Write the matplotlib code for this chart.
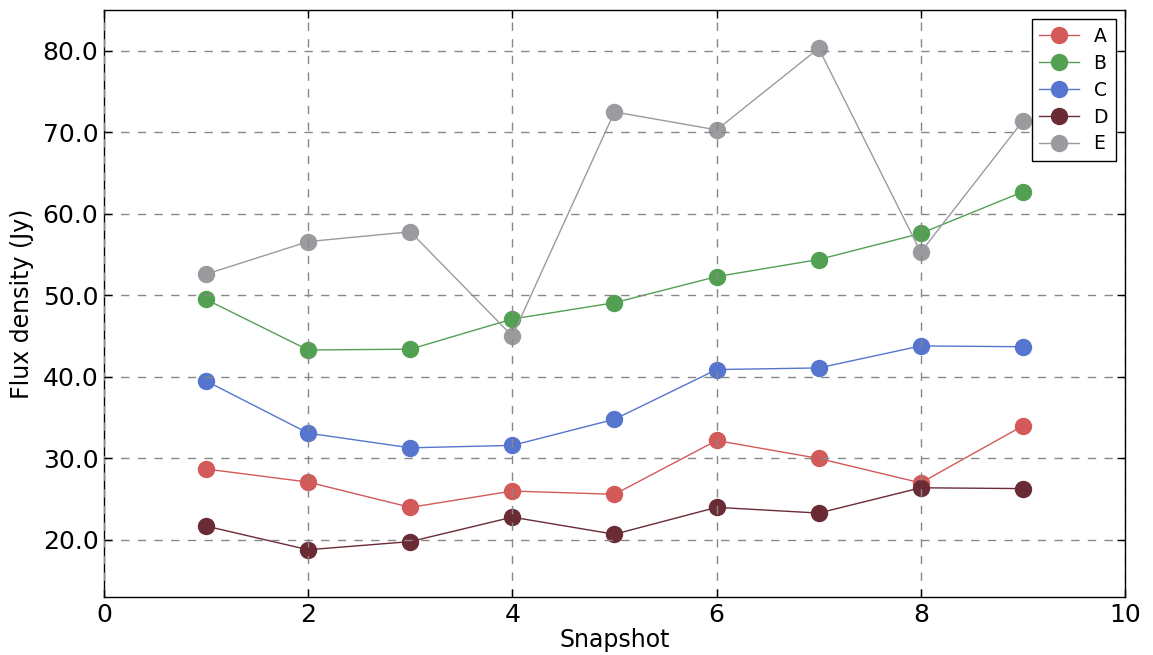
import numpy as np
import matplotlib
matplotlib.use("Agg")
import matplotlib.pyplot as plt
from matplotlib.ticker import FormatStrFormatter

# flux density per snapshot for each component
snapshots = [1, 2, 3, 4, 5, 6, 7, 8, 9]
flux_a = [28.7, 27.1, 24.0, 26.0, 25.6, 32.2, 30.0, 27.0, 34.0]
flux_b = [49.5, 43.3, 43.4, 47.1, 49.1, 52.3, 54.4, 57.6, 62.7]
flux_c = [39.5, 33.1, 31.3, 31.6, 34.8, 40.9, 41.1, 43.8, 43.7]
flux_d = [21.7, 18.8, 19.8, 22.8, 20.7, 24.0, 23.3, 26.4, 26.3]
flux_e = [52.6, 56.6, 57.8, 45.0, 72.5, 70.3, 80.3, 55.3, 71.4]
names = ["A", "B", "C", "D", "E"]
colors = ["#d45959", "#52a052", "#5575cf", "#6a2b35", "#9b9b9f"]

fig = plt.figure(figsize=(11.53, 6.55), dpi=100)
ax = fig.add_axes([0.0902, 0.0885, 0.8855, 0.8962])

for name, flux, col in zip(names, [flux_a, flux_b, flux_c, flux_d, flux_e], colors):
    ax.plot(snapshots, flux, "-o", color=col, markeredgecolor=col,
            markersize=11.5, linewidth=1.0, label=name)

ax.set_xlim(0, 10)
ax.set_ylim(13, 85)
ax.set_xticks([0, 2, 4, 6, 8, 10])
ax.set_yticks([20, 30, 40, 50, 60, 70, 80])
ax.yaxis.set_major_formatter(FormatStrFormatter("%.1f"))
ax.grid(True, color="#888888", linestyle="--", linewidth=1.0, dashes=(6, 6))
ax.set_axisbelow(False)

ax.tick_params(direction="in", top=True, right=True, length=6, width=1,
               pad=4, labelsize=18)
for sp in ax.spines.values():
    sp.set_linewidth(1.0)

ax.set_xlabel("Snapshot", fontsize=17, labelpad=1)
ax.set_ylabel("Flux density (Jy)", fontsize=17, labelpad=6)

leg = ax.legend(loc="upper right", numpoints=1, fontsize=13.5, fancybox=False,
                framealpha=1, edgecolor="black", borderaxespad=0.5,
                handlelength=2.1, labelspacing=0.42, handletextpad=0.8)
leg.get_frame().set_linewidth(1.0)

plt.savefig("out.png", dpi=100)
